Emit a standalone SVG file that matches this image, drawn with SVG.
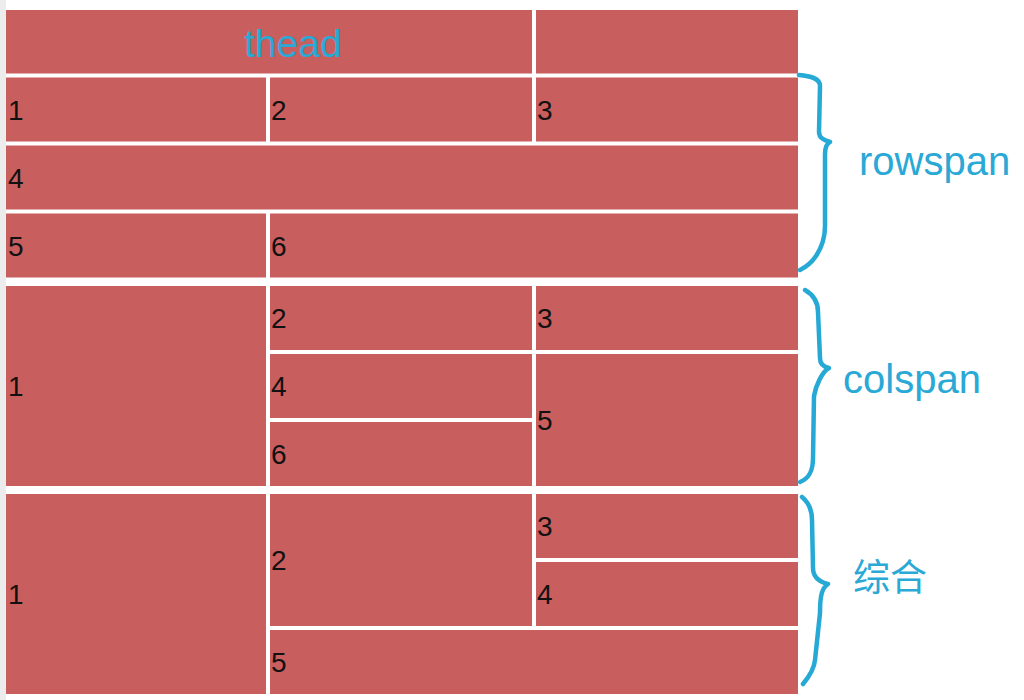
<svg xmlns="http://www.w3.org/2000/svg" width="1024" height="700" viewBox="0 0 1024 700">
<defs>
<linearGradient id="bg" x1="0" y1="0" x2="1" y2="0">
<stop offset="0" stop-color="#ececec"/>
<stop offset="1" stop-color="#ffffff"/>
</linearGradient>
</defs>
<style>
.c{fill:#c95e5f}
.n{font-family:"Liberation Sans",Arial,sans-serif;font-size:28px;fill:#111}
.lbl{font-family:"Liberation Sans",Arial,sans-serif;font-size:40px;fill:#2aa8d6}
.cjk{font-family:"Liberation Sans","Noto Sans CJK SC",sans-serif;font-size:37px;fill:#2aa8d6}
.br{fill:none;stroke:#27a9d6;stroke-width:4.5;stroke-linecap:round;stroke-linejoin:round}
</style>
<rect width="1024" height="700" fill="#fff"/>
<rect width="300" height="700" fill="url(#bg)"/>
<rect x="6" y="0" width="800" height="700" fill="#fff"/>

<g id="table-rowspan">
<g id="t1-thead"><rect class="c" x="6" y="10" width="526" height="63.5"/><text class="lbl" x="244" y="57" style="font-size:39px">thead</text></g>
<g id="t1-thead-2"><rect class="c" x="536" y="10" width="262" height="63.5"/></g>
<g id="t1-c1"><rect class="c" x="6" y="77.5" width="260" height="64"/><text class="n" x="8" y="120">1</text></g>
<g id="t1-c2"><rect class="c" x="270" y="77.5" width="262" height="64"/><text class="n" x="271" y="120">2</text></g>
<g id="t1-c3"><rect class="c" x="536" y="77.5" width="262" height="64"/><text class="n" x="537" y="120">3</text></g>
<g id="t1-c4"><rect class="c" x="6" y="145.5" width="792" height="64"/><text class="n" x="8" y="188">4</text></g>
<g id="t1-c5"><rect class="c" x="6" y="213.5" width="260" height="64"/><text class="n" x="8" y="256">5</text></g>
<g id="t1-c6"><rect class="c" x="270" y="213.5" width="528" height="64"/><text class="n" x="271" y="256">6</text></g>
</g>

<g id="table-colspan">
<g id="t2-c1"><rect class="c" x="6" y="286" width="260" height="200"/><text class="n" x="8" y="396">1</text></g>
<g id="t2-c2"><rect class="c" x="270" y="286" width="262" height="64"/><text class="n" x="271" y="328">2</text></g>
<g id="t2-c3"><rect class="c" x="536" y="286" width="262" height="64"/><text class="n" x="537" y="328">3</text></g>
<g id="t2-c4"><rect class="c" x="270" y="354" width="262" height="64"/><text class="n" x="271" y="396">4</text></g>
<g id="t2-c5"><rect class="c" x="536" y="354" width="262" height="132"/><text class="n" x="537" y="430">5</text></g>
<g id="t2-c6"><rect class="c" x="270" y="422" width="262" height="64"/><text class="n" x="271" y="464">6</text></g>
</g>

<g id="table-mixed">
<g id="t3-c1"><rect class="c" x="6" y="494" width="260" height="200"/><text class="n" x="8" y="604">1</text></g>
<g id="t3-c2"><rect class="c" x="270" y="494" width="262" height="132"/><text class="n" x="271" y="570">2</text></g>
<g id="t3-c3"><rect class="c" x="536" y="494" width="262" height="64"/><text class="n" x="537" y="536">3</text></g>
<g id="t3-c4"><rect class="c" x="536" y="562" width="262" height="64"/><text class="n" x="537" y="604">4</text></g>
<g id="t3-c5"><rect class="c" x="270" y="630" width="528" height="64"/><text class="n" x="271" y="672">5</text></g>
</g>

<g id="connectors">
<path class="br" d="M799,75 C810,76 820,78 820,86 L819,132 C819,138 824,140 830,142 C826,144 825,148 825,154 L825,226 C825,240 820,250 816,256 C812,262 806,267 800,270"/>
<path class="br" d="M805,290 C812,294 818,300 818,312 L820,358 C820,364 824,367 829,368 C822,372 816,385 814,396 L813,458 C813,470 810,478 800,482"/>
<path class="br" d="M802,497 C808,502 812,508 812,520 L813,568 C813,578 820,582 828,584 C822,588 820,595 820,613 L815,660 C814,670 808,678 803,684"/>
</g>

<g id="label-rowspan"><text class="lbl" x="859" y="175">rowspan</text></g>
<g id="label-colspan"><text class="lbl" x="843" y="393">colspan</text></g>
<g id="label-mixed"><text class="cjk" x="853" y="591">综合</text></g>
</svg>
